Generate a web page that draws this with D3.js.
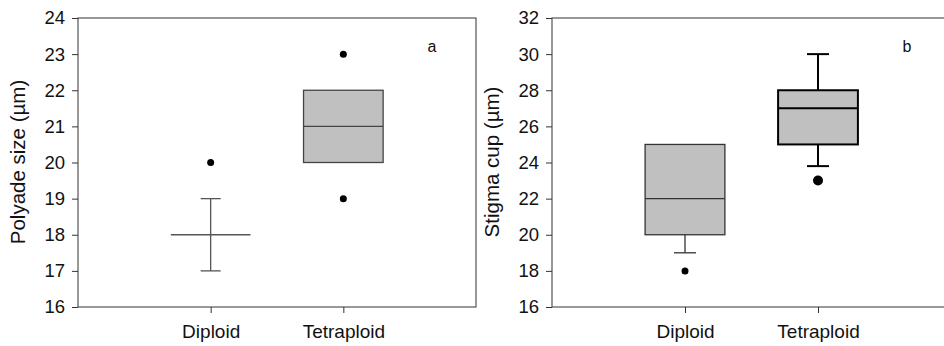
<!DOCTYPE html>
<html><head><meta charset="utf-8">
<script src="https://cdn.jsdelivr.net/npm/d3@7"></script>
<style>body{margin:0;background:#fff}svg{display:block}text{font-family:"Liberation Sans",Arial,sans-serif}</style>
</head><body><svg id="c" width="944" height="346"></svg>
<script>
const categories = ["Diploid", "Tetraploid"];
// Panel a: Polyade size
const polyMin = [17, 20];
const polyQ1 = [18, 20];
const polyMedian = [18, 21];
const polyQ3 = [18, 22];
const polyMax = [19, 22];
const polyOutliers = [[20], [23, 19]];
const polyTicks = [16, 17, 18, 19, 20, 21, 22, 23, 24];
// Panel b: Stigma cup
const stigMin = [19, 23.8];
const stigQ1 = [20, 25];
const stigMedian = [22, 27];
const stigQ3 = [25, 28];
const stigMax = [25, 30];
const stigOutliers = [[18], [23]];
const stigTicks = [16, 18, 20, 22, 24, 26, 28, 30, 32];

const svg = d3.select("#c");

function panel(opt) {
  const g = svg.append("g");
  const x = d3.scalePoint().domain(categories).range([opt.left, opt.right]).padding(1);
  const y = d3.scaleLinear().domain([opt.ticks[0], opt.ticks[opt.ticks.length - 1]]).range([307, 18]);
  const step = x.step();
  const bw = step * 0.6;
  const cw = opt.capW;
  // frame
  g.append("rect").attr("x", opt.left).attr("y", 18).attr("width", opt.right - opt.left).attr("height", 289)
    .attr("fill", "none").attr("stroke", "#333").attr("stroke-width", 1);
  // y axis
  const ya = g.append("g").attr("transform", `translate(${opt.left},0)`)
    .call(d3.axisLeft(y).tickValues(opt.ticks).tickSize(6).tickPadding(7).tickFormat(d3.format("d")));
  ya.select(".domain").remove();
  ya.selectAll("line").attr("stroke", "#333");
  ya.selectAll("text").attr("font-size", 18.5).attr("fill", "#111").attr("font-family", "Liberation Sans, Arial, sans-serif");
  // x axis
  const xa = g.append("g").attr("transform", `translate(0,307)`)
    .call(d3.axisBottom(x).tickSize(6).tickPadding(12));
  xa.select(".domain").remove();
  xa.selectAll("line").attr("stroke", "#333");
  xa.selectAll("text").attr("font-size", 19).attr("fill", "#111").attr("font-family", "Liberation Sans, Arial, sans-serif");
  // y title
  g.append("text").attr("transform", `translate(${opt.titleX},162) rotate(-90)`)
    .attr("text-anchor", "middle").attr("dominant-baseline", "central")
    .attr("font-size", 20.5).attr("fill", "#111").text(opt.title);
  // panel letter
  g.append("text").attr("x", opt.letterX).attr("y", 52).attr("text-anchor", "middle")
    .attr("font-size", 16).attr("fill", "#111").text(opt.letter);

  categories.forEach((c, i) => {
    const cx = x(c);
    const st = opt.stroke[i], sw = opt.sw[i];
    // whiskers
    if (opt.max[i] > opt.q3[i]) {
      g.append("line").attr("x1", cx).attr("x2", cx).attr("y1", y(opt.q3[i])).attr("y2", y(opt.max[i])).attr("stroke", st).attr("stroke-width", sw);
      g.append("line").attr("x1", cx - cw / 2).attr("x2", cx + cw / 2).attr("y1", y(opt.max[i])).attr("y2", y(opt.max[i])).attr("stroke", st).attr("stroke-width", sw);
    }
    if (opt.min[i] < opt.q1[i]) {
      g.append("line").attr("x1", cx).attr("x2", cx).attr("y1", y(opt.q1[i])).attr("y2", y(opt.min[i])).attr("stroke", st).attr("stroke-width", sw);
      g.append("line").attr("x1", cx - cw / 2).attr("x2", cx + cw / 2).attr("y1", y(opt.min[i])).attr("y2", y(opt.min[i])).attr("stroke", st).attr("stroke-width", sw);
    }
    // box
    if (opt.q3[i] > opt.q1[i]) {
      g.append("rect").attr("x", cx - bw / 2).attr("y", y(opt.q3[i])).attr("width", bw)
        .attr("height", y(opt.q1[i]) - y(opt.q3[i])).attr("fill", "#c0c0c0").attr("stroke", st).attr("stroke-width", sw);
    }
    g.append("line").attr("x1", cx - bw / 2).attr("x2", cx + bw / 2).attr("y1", y(opt.median[i])).attr("y2", y(opt.median[i]))
      .attr("stroke", st).attr("stroke-width", sw);
    opt.outliers[i].forEach(v => {
      g.append("circle").attr("cx", cx).attr("cy", y(v)).attr("r", opt.r[i]).attr("fill", "#000");
    });
  });
}

panel({left: 78, right: 476, ticks: polyTicks, min: polyMin, q1: polyQ1, median: polyMedian, q3: polyQ3, max: polyMax,
  outliers: polyOutliers, title: "Polyade size (µm)", titleX: 17, letter: "a", letterX: 432, capW: 20,
  stroke: ["#555", "#444"], sw: [1.3, 1.3], r: [3.5, 3.5]});
panel({left: 552, right: 951, ticks: stigTicks, min: stigMin, q1: stigQ1, median: stigMedian, q3: stigQ3, max: stigMax,
  outliers: stigOutliers, title: "Stigma cup (µm)", titleX: 491, letter: "b", letterX: 907, capW: 22,
  stroke: ["#333", "#000"], sw: [1.3, 2], r: [3.5, 5]});
</script></body></html>
